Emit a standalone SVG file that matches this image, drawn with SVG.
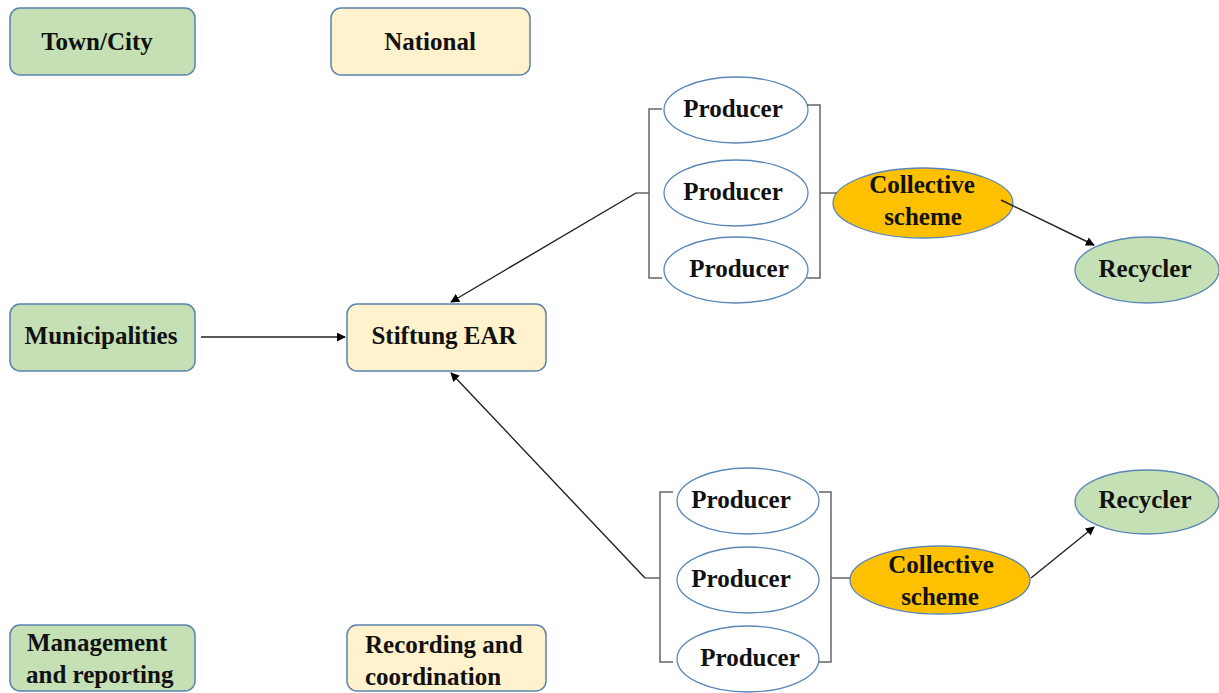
<svg xmlns="http://www.w3.org/2000/svg" width="1219" height="693" viewBox="0 0 1219 693">
<defs>
<marker id="ah" viewBox="0 0 10 10" refX="9" refY="5" markerWidth="9" markerHeight="9" markerUnits="userSpaceOnUse" orient="auto">
<path d="M0,0 L10,5 L0,10 z" fill="#000"/>
</marker>
<style>
.box{stroke:#5a82ad;stroke-width:1.5}
.g{fill:#c5e0b4}
.y{fill:#fff2cc}
.o{fill:#ffc000}
.w{fill:#ffffff}
.el{stroke:#5a86b8;stroke-width:1.3}
text{font-family:"Liberation Serif","Times New Roman",serif;font-weight:bold;font-size:25px;fill:#111}
.c{text-anchor:middle}
.br{fill:none;stroke:#666;stroke-width:1.5}
.ln{fill:none;stroke:#222;stroke-width:1.4}
</style>
</defs>
<rect width="1219" height="693" fill="#fff"/>

<g id="town"><rect class="box g" x="10" y="8" width="185" height="67" rx="10"/><text class="c" x="97" y="50">Town/City</text></g>
<g id="national"><rect class="box y" x="331" y="8" width="199" height="67" rx="10"/><text class="c" x="430" y="50">National</text></g>
<g id="municipalities"><rect class="box g" x="10" y="304" width="185" height="67" rx="10"/><text class="c" x="101" y="344">Municipalities</text></g>
<g id="ear"><rect class="box y" x="347" y="304" width="199" height="67" rx="10"/><text class="c" x="444" y="344">Stiftung EAR</text></g>
<g id="management"><rect class="box g" x="10" y="625" width="185" height="66" rx="10"/><text x="27" y="651">Management</text><text x="26" y="683">and reporting</text></g>
<g id="recording"><rect class="box y" x="347" y="625" width="199" height="66" rx="10"/><text x="365" y="653">Recording and</text><text x="365" y="685">coordination</text></g>

<g id="producer-t1"><ellipse class="el w" cx="736" cy="110" rx="72" ry="33"/><text class="c" x="733" y="117">Producer</text></g>
<g id="producer-t2"><ellipse class="el w" cx="736" cy="193" rx="72" ry="33"/><text class="c" x="733" y="200">Producer</text></g>
<g id="producer-t3"><ellipse class="el w" cx="736" cy="270" rx="72" ry="33"/><text class="c" x="739" y="277">Producer</text></g>
<g id="collective-t"><ellipse class="el o" cx="923" cy="203" rx="90" ry="35"/><text class="c" x="922" y="193">Collective</text><text class="c" x="923" y="225">scheme</text></g>
<g id="recycler-t"><ellipse class="el g" cx="1147" cy="270" rx="72" ry="33"/><text class="c" x="1145" y="277">Recycler</text></g>

<g id="producer-b1"><ellipse class="el w" cx="748" cy="501" rx="71" ry="33"/><text class="c" x="741" y="508">Producer</text></g>
<g id="producer-b2"><ellipse class="el w" cx="748" cy="580" rx="71" ry="33"/><text class="c" x="741" y="587">Producer</text></g>
<g id="producer-b3"><ellipse class="el w" cx="748" cy="659" rx="71" ry="33"/><text class="c" x="750" y="666">Producer</text></g>
<g id="collective-b"><ellipse class="el o" cx="940" cy="580" rx="90" ry="34"/><text class="c" x="941" y="573">Collective</text><text class="c" x="940" y="605">scheme</text></g>
<g id="recycler-b"><ellipse class="el g" cx="1147" cy="502" rx="72" ry="32"/><text class="c" x="1145" y="508">Recycler</text></g>

<g id="connectors">
<path class="br" d="M662,109 H649 V278 H662 M649,193 H636"/>
<path class="br" d="M807,105 H820 V278 H807 M820,193 H837"/>
<path class="br" d="M673,492 H660 V662 H673 M660,578 H645"/>
<path class="br" d="M819,492 H831 V662 H819 M831,578 H850"/>
<line class="ln" x1="201" y1="337" x2="345" y2="337" marker-end="url(#ah)"/>
<line class="ln" x1="636" y1="193" x2="451" y2="302" marker-end="url(#ah)"/>
<line class="ln" x1="645" y1="578" x2="451" y2="373" marker-end="url(#ah)"/>
<line class="ln" x1="1001" y1="200" x2="1094" y2="245" marker-end="url(#ah)"/>
<line class="ln" x1="1031" y1="578" x2="1094" y2="527" marker-end="url(#ah)"/>
</g>
</svg>
